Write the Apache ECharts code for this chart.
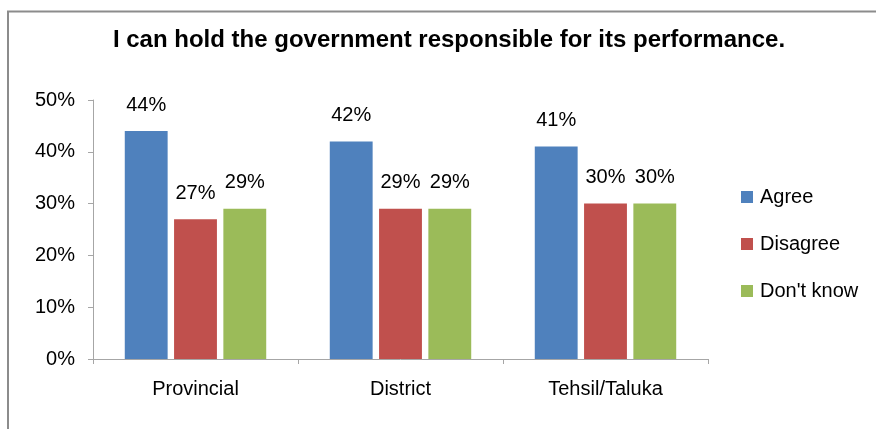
<!DOCTYPE html>
<html>
<head>
<meta charset="utf-8">
<script src="https://cdn.jsdelivr.net/npm/echarts@6/dist/echarts.min.js"></script>
<style>
  html, body { margin: 0; padding: 0; background: #fff; }
  #chart { width: 876px; height: 429px; }
</style>
</head>
<body>
<div id="chart"></div>
<script>
// Survey response shares by level of government
const categories = ['Provincial', 'District', 'Tehsil/Taluka'];
const agree = [44, 42, 41];
const disagree = [27, 29, 30];
const dontKnow = [29, 29, 30];
const yTicks = [0, 10, 20, 30, 40, 50];

const font = '"Liberation Sans", Arial, sans-serif';
const chart = echarts.init(document.getElementById('chart'));

function barSeries(name, data, color) {
  return {
    name: name,
    type: 'bar',
    data: data,
    barGap: '15%',
    barCategoryGap: '31%',
    itemStyle: { color: color },
    label: {
      show: true,
      position: 'top',
      distance: 16,
      formatter: p => p.value + '%',
      fontFamily: font,
      fontSize: 20,
      color: '#000'
    }
  };
}

chart.setOption({
  animation: false,
  title: {
    text: 'I can hold the government responsible for its performance.',
    left: 444,
    textAlign: 'center',
    top: 23,
    textStyle: { fontFamily: font, fontSize: 24, fontWeight: 'bold', color: '#000' }
  },
  graphic: [
    {
      type: 'polyline',
      shape: { points: [[8, 429], [8, 11.5], [876, 11.5]] },
      style: { stroke: '#8c8c8c', lineWidth: 2, fill: null }
    }
  ],
  legend: {
    orient: 'vertical',
    left: 736,
    top: 182,
    itemWidth: 12,
    itemHeight: 12,
    itemGap: 27,
    icon: 'rect',
    textStyle: { fontFamily: font, fontSize: 20, color: '#000', padding: [0, 0, 0, 2] },
    data: ['Agree', 'Disagree', "Don't know"]
  },
  grid: { left: 93, top: 100, width: 615, height: 259 },
  xAxis: {
    type: 'category',
    data: categories,
    axisLine: { lineStyle: { color: '#a6a6a6', width: 1 } },
    axisTick: { show: true, length: 5, lineStyle: { color: '#a6a6a6' } },
    axisLabel: { fontFamily: font, fontSize: 20, color: '#000', margin: 20 }
  },
  yAxis: {
    type: 'value',
    min: yTicks[0],
    max: yTicks[yTicks.length - 1],
    interval: 10,
    axisLine: { show: true, lineStyle: { color: '#a6a6a6', width: 1 } },
    axisTick: { show: true, length: 5, lineStyle: { color: '#a6a6a6' } },
    splitLine: { show: false },
    axisLabel: {
      fontFamily: font,
      fontSize: 20,
      color: '#000',
      margin: 18,
      formatter: v => v + '%'
    }
  },
  series: [
    barSeries('Agree', agree, '#4f81bd'),
    barSeries('Disagree', disagree, '#c0504d'),
    barSeries("Don't know", dontKnow, '#9bbb59')
  ]
});
</script>
</body>
</html>
